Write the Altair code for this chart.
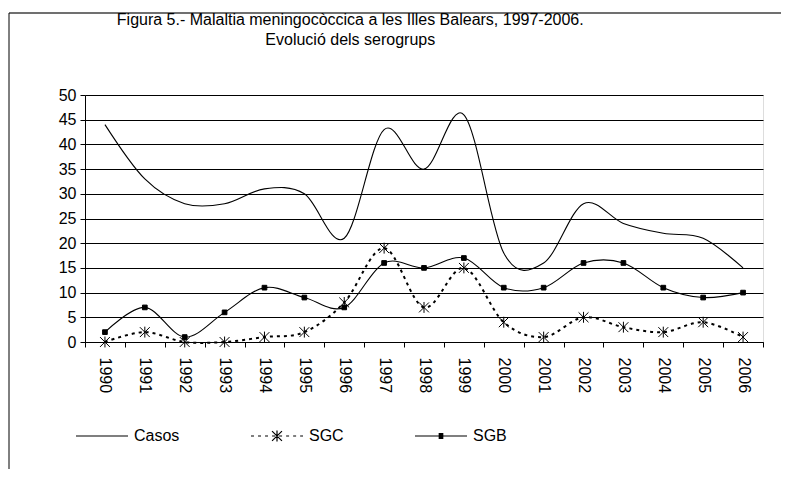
import altair as alt
import pandas as pd

years = [str(y) for y in range(1990, 2007)]
casos = [44, 33, 28, 28, 31, 30, 21, 43, 35, 46, 18, 16, 28, 24, 22, 21, 15]
sgc = [0, 2, 0, 0, 1, 2, 8, 19, 7, 15, 4, 1, 5, 3, 2, 4, 1]
sgb = [2, 7, 1, 6, 11, 9, 7, 16, 15, 17, 11, 11, 16, 16, 11, 9, 10]
series_names = ["Casos", "SGC", "SGB"]

rows = []
for name, vals in zip(series_names, [casos, sgc, sgb]):
    for yr, v in zip(years, vals):
        rows.append({"year": yr, "value": v, "series": name, "marker": name})
df = pd.DataFrame(rows)
pts = df[df["series"] != "Casos"]

FONT = "Liberation Sans"
SYM = 2704  # 52px legend symbol width, path unit = 26px

ASTER = "M-0.19,-0.19L0.19,0.19M-0.19,0.19L0.19,-0.19M0,-0.21L0,0.21"
SQUARE = "M-0.09,-0.09L0.09,-0.09L0.09,0.09L-0.09,0.09Z"

# legend symbol paths (line sample + marker)
dots = ""
pos = -1.0
while pos < 1.0:
    end = min(pos + 0.115, 1.0)
    dots += "M%.3f,0L%.3f,0" % (pos, end)
    pos += 0.27
hatch = ""
for i in range(7):
    yy = -0.09 + i * 0.03
    hatch += "M-0.09,%.3fL0.09,%.3f" % (yy, yy)
LEG_CASOS = "M-1,0L1,0"
LEG_SGC = dots + ASTER
LEG_SGB = "M-1,0L1,0" + hatch

x_enc = alt.X(
    "year:O",
    scale=alt.Scale(type="band", paddingInner=0, paddingOuter=0),
    axis=alt.Axis(
        title=None, labelAngle=90, tickBand="extent", tickSize=5,
        tickColor="black", domainColor="black", labelColor="black",
        labelFont=FONT, labelFontSize=16, labelPadding=10, grid=False,
    ),
)
y_enc = alt.Y(
    "value:Q",
    scale=alt.Scale(domain=[0, 50], nice=False),
    axis=alt.Axis(
        title=None, values=list(range(0, 55, 5)), grid=True, gridColor="black",
        gridWidth=1, tickSize=5, tickColor="black", domainColor="black",
        labelColor="black", labelFont=FONT, labelFontSize=16, labelPadding=4,
    ),
)

leg_shape_expr = (
    "(datum.value === 'Casos' ? '%s' : (datum.value === 'SGC' ? '%s' : '%s'))"
    % (LEG_CASOS, LEG_SGC, LEG_SGB)
)

solid = alt.Chart(df).transform_filter(
    alt.datum.series != "SGC"
).mark_line(interpolate="cardinal", tension=0, strokeWidth=1.1).encode(
    x=x_enc,
    y=y_enc,
    color=alt.Color(
        "series:N",
        scale=alt.Scale(domain=series_names, range=["black", "black", "black"]),
        legend=alt.Legend(
            title=None, orient="none", legendX=-10, legendY=314,
            direction="horizontal", columns=3, columnPadding=68,
            labelFont=FONT, labelFontSize=16, labelOffset=5, labelColor="black",
            symbolSize=SYM, symbolStrokeColor="black", symbolFillColor="black",
            symbolOpacity=1, symbolStrokeWidth=1.2,
            symbolType=alt.ExprRef(expr=leg_shape_expr),
        ),
    ),
)
dotted = alt.Chart(df).transform_filter(
    alt.datum.series == "SGC"
).mark_line(interpolate="cardinal", tension=0, color="black", strokeWidth=2,
            strokeDash=[3, 4]).encode(x=x_enc, y=y_enc)

points = alt.Chart(pts).mark_point(
    filled=True, color="black", stroke="black", strokeWidth=1, opacity=1, size=SYM
).encode(
    x=x_enc,
    y=y_enc,
    shape=alt.Shape(
        "marker:N",
        scale=alt.Scale(domain=["SGC", "SGB"], range=[ASTER, SQUARE]),
        legend=None,
    ),
)

dummy = alt.Data(values=[{"a": 1}])
frame_top = alt.Chart(dummy).mark_rule(color="#404040", strokeWidth=1.5).encode(
    x=alt.value(-76), x2=alt.value(700), y=alt.value(-82)
)
frame_left = alt.Chart(dummy).mark_rule(color="black", strokeWidth=1).encode(
    x=alt.value(-76), y=alt.value(-82), y2=alt.value(380)
)

chart = alt.layer(frame_top, frame_left, solid, dotted, points).properties(
    width=678,
    height=247,
    padding={"left": 77, "top": 87, "right": 18, "bottom": 127},
    autosize=alt.AutoSizeParams(type="none"),
    title=alt.TitleParams(
        text=["Figura 5.- Malaltia meningocòccica a les Illes Balears,  1997-2006.",
              "Evolució dels serogrups"],
        anchor="start", align="center", baseline="bottom", dx=342, offset=-52,
        font=FONT, fontSize=16, fontWeight="normal", lineHeight=20, color="black",
    ),
).configure_view(stroke="#808080", strokeWidth=1.5).configure_legend(
    symbolSize=SYM
).configure(background="white")

chart.save("out.html", embed_options={"renderer": "svg", "actions": False})
